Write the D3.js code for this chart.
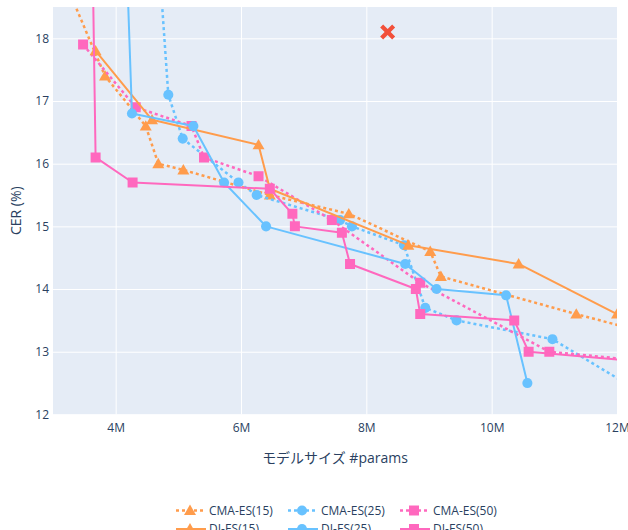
<!DOCTYPE html>
<html>
<head>
<meta charset="utf-8">
<script src="https://cdn.jsdelivr.net/npm/d3@7"></script>
<style>
  body { margin: 0; background: #fff; }
  svg { display: block; }
</style>
</head>
<body>
<div id="chart"></div>
<script>
// Model size (millions of parameters) vs. CER (%) for each search method
const seriesNames = ["CMA-ES(15)", "CMA-ES(25)", "CMA-ES(50)", "DI-ES(15)", "DI-ES(25)", "DI-ES(50)"];

const cma15Params = [3.15, 3.83, 4.48, 4.68, 5.08, 6.46, 7.72, 9.02, 9.19, 11.35, 12.6];
const cma15Cer    = [19.0, 17.4, 16.6, 16.0, 15.9, 15.5, 15.2, 14.6, 14.2, 13.6, 13.27];

const cma25Params = [4.5, 4.84, 5.07, 5.96, 6.25, 7.58, 7.77, 8.60, 8.94, 9.44, 10.97, 12.5];
const cma25Cer    = [22.0, 17.1, 16.4, 15.7, 15.5, 15.1, 15.0, 14.7, 13.7, 13.5, 13.2, 12.28];

const cma50Params = [3.48, 4.32, 5.21, 5.41, 6.28, 7.45, 8.86, 10.92, 14.0];
const cma50Cer    = [17.9, 16.9, 16.6, 16.1, 15.8, 15.1, 14.1, 13.0, 12.7];

const di15Params = [3.68, 4.58, 6.28, 6.46, 8.67, 10.43, 12.0];
const di15Cer    = [17.8, 16.7, 16.3, 15.6, 14.7, 14.4, 13.6];

const di25Params = [4.08, 4.26, 5.24, 5.73, 6.40, 8.62, 9.12, 10.23, 10.57];
const di25Cer    = [22.0, 16.8, 16.6, 15.7, 15.0, 14.4, 14.0, 13.9, 12.5];

const di50Params = [3.59, 3.68, 4.27, 6.46, 6.82, 6.86, 7.61, 7.74, 8.79, 8.86, 10.36, 10.59, 14.0];
const di50Cer    = [22.0, 16.1, 15.7, 15.6, 15.2, 15.0, 14.9, 14.4, 14.0, 13.6, 13.5, 13.0, 12.7];

// Reference model
const baselineParams = [8.34];
const baselineCer    = [18.1];

const xTicks = [4, 6, 8, 10, 12];
const yTicks = [12, 13, 14, 15, 16, 17, 18];

const ORANGE = "#FF9C4C", BLUE = "#68C2FF", PINK = "#FF68BE", RED = "#F2503A";
const FONT = '"Open Sans", "Noto Sans CJK JP", verdana, arial, sans-serif';
const TEXT = "#2a3f5f";

const series = [
  { name: seriesNames[0], x: cma15Params, y: cma15Cer, color: ORANGE, dash: "3,3", symbol: d3.symbolTriangle, size: 62, w: 2.5 },
  { name: seriesNames[1], x: cma25Params, y: cma25Cer, color: BLUE,   dash: "3,3", symbol: d3.symbolCircle,   size: 80, w: 2.5 },
  { name: seriesNames[2], x: cma50Params, y: cma50Cer, color: PINK,   dash: "3,3", symbol: d3.symbolSquare,   size: 100, w: 2.5 },
  { name: seriesNames[3], x: di15Params,  y: di15Cer,  color: ORANGE, dash: null,  symbol: d3.symbolTriangle, size: 62, w: 2 },
  { name: seriesNames[4], x: di25Params,  y: di25Cer,  color: BLUE,   dash: null,  symbol: d3.symbolCircle,   size: 80, w: 2 },
  { name: seriesNames[5], x: di50Params,  y: di50Cer,  color: PINK,   dash: null,  symbol: d3.symbolSquare,   size: 100, w: 2 }
];

const W = 628, H = 530;
const plot = { left: 53, top: 7, right: 617, bottom: 414.4 };

const svg = d3.select("#chart").append("svg")
  .attr("width", W).attr("height", H)
  .style("font-family", FONT);

const x = d3.scaleLinear().domain([3, 12]).range([plot.left, plot.right]);
const y = d3.scaleLinear().domain([12, 18.5]).range([plot.bottom, plot.top]);

// Plot background
svg.append("rect")
  .attr("x", plot.left).attr("y", plot.top)
  .attr("width", plot.right - plot.left).attr("height", plot.bottom - plot.top)
  .attr("fill", "#E5ECF6");

svg.append("clipPath").attr("id", "plot-clip")
  .append("rect")
  .attr("x", plot.left).attr("y", plot.top)
  .attr("width", plot.right - plot.left).attr("height", plot.bottom - plot.top);

// Gridlines via axes
const xAxis = d3.axisBottom(x).tickValues(xTicks).tickFormat(d => d + "M")
  .tickSize(-(plot.bottom - plot.top)).tickPadding(9);
const gx = svg.append("g").attr("transform", `translate(0,${plot.bottom})`).call(xAxis);
gx.select(".domain").remove();
gx.selectAll(".tick line").attr("stroke", "#fff").attr("stroke-width", 1);
gx.selectAll(".tick text").attr("fill", TEXT).attr("font-size", 12).attr("font-family", FONT);

const yAxis = d3.axisLeft(y).tickValues(yTicks).tickFormat(d3.format("d"))
  .tickSize(-(plot.right - plot.left)).tickPadding(4);
const gy = svg.append("g").attr("transform", `translate(${plot.left},0)`).call(yAxis);
gy.select(".domain").remove();
gy.selectAll(".tick line").attr("stroke", "#fff").attr("stroke-width", 1);
gy.selectAll(".tick text").attr("fill", TEXT).attr("font-size", 12).attr("font-family", FONT);

// Axis titles
svg.append("text")
  .attr("x", (plot.left + plot.right) / 2).attr("y", 463)
  .attr("text-anchor", "middle").attr("font-size", 14).attr("fill", TEXT)
  .text("モデルサイズ #params");

svg.append("text")
  .attr("transform", `translate(21,${(plot.top + plot.bottom) / 2}) rotate(-90)`)
  .attr("text-anchor", "middle").attr("font-size", 14).attr("fill", TEXT)
  .text("CER (%)");

// Traces
const layer = svg.append("g").attr("clip-path", "url(#plot-clip)");
const line = d3.line().x(d => x(d[0])).y(d => y(d[1]));

series.forEach(s => {
  const pts = s.x.map((v, i) => [v, s.y[i]]);
  const g = layer.append("g");
  g.append("path")
    .attr("d", line(pts))
    .attr("fill", "none")
    .attr("stroke", s.color)
    .attr("stroke-width", s.w)
    .attr("stroke-dasharray", s.dash)
    .attr("stroke-linejoin", "round");
  g.selectAll("path.pt").data(pts).join("path")
    .attr("class", "pt")
    .attr("transform", d => `translate(${x(d[0])},${y(d[1]) + (s.symbol === d3.symbolTriangle ? 1 : 0)})`)
    .attr("d", d3.symbol().type(s.symbol).size(s.size))
    .attr("fill", s.color);
});

// Reference model marker (thick X)
const crossPath = (r, a) =>
  `M${-r},${-r + a}L${-r + a},${-r}L0,${-a}L${r - a},${-r}L${r},${-r + a}L${a},0` +
  `L${r},${r - a}L${r - a},${r}L0,${a}L${-r + a},${r}L${-r},${r - a}L${-a},0Z`;
layer.selectAll("path.base").data(baselineParams.map((v, i) => [v, baselineCer[i]])).join("path")
  .attr("class", "base")
  .attr("transform", d => `translate(${x(d[0])},${y(d[1])})`)
  .attr("d", crossPath(7.5, 3))
  .attr("fill", RED);

// Legend: two rows of three entries
const legendTextX = [209, 321, 433];
const legendRowY = [510.5, 529];
series.forEach((s, i) => {
  const col = i % 3, row = Math.floor(i / 3);
  const tx = legendTextX[col], ty = legendRowY[row];
  const g = svg.append("g");
  g.append("line")
    .attr("x1", tx - 33).attr("x2", tx - 3)
    .attr("y1", ty).attr("y2", ty)
    .attr("stroke", s.color).attr("stroke-width", s.w)
    .attr("stroke-dasharray", s.dash);
  g.append("path")
    .attr("transform", `translate(${tx - 19},${ty + (s.symbol === d3.symbolTriangle ? 1 : 0)})`)
    .attr("d", d3.symbol().type(s.symbol).size(s.size))
    .attr("fill", s.color);
  g.append("text")
    .attr("x", tx).attr("y", ty).attr("dy", "0.35em")
    .attr("font-size", 12).attr("fill", TEXT)
    .text(s.name);
});
</script>
</body>
</html>
